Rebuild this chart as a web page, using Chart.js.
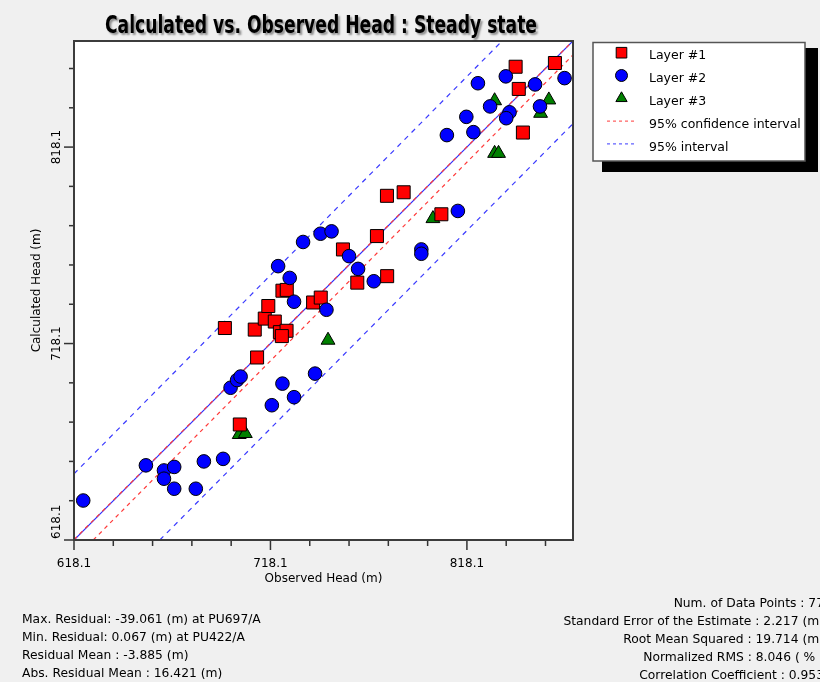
<!DOCTYPE html>
<html>
<head>
<meta charset="utf-8">
<title>Calculated vs. Observed Head : Steady state</title>
<script src="https://cdn.jsdelivr.net/npm/chart.js@4.4.1/dist/chart.umd.min.js"></script>
<style>
  html, body { margin: 0; padding: 0; background: #f0f0f0; overflow: hidden; }
  #wrap { position: relative; width: 820px; height: 682px; overflow: hidden; }
  #headChart { position: absolute; left: 0; top: 0; }
  .stats { position: absolute; font: 12.3px 'DejaVu Sans', sans-serif; line-height: 18px; color: #000; white-space: nowrap; }
  #statsLeft { left: 22px; top: 610px; }
  #statsRight { right: -4px; top: 594px; text-align: right; }
</style>
</head>
<body>
<div id="wrap">
  <canvas id="headChart" width="820" height="682"></canvas>
  <div class="stats" id="statsLeft"></div>
  <div class="stats" id="statsRight"></div>
</div>
<script>
// Title and axis texts
var chartTitle = 'Calculated vs. Observed Head : Steady state';
var xTitle = 'Observed Head (m)';
var yTitle = 'Calculated Head (m)';

// Axis range and ticks (same for both axes)
var axisMin = 618.1;
var axisMax = 872.1;
var headTicks = [618.1, 638.1, 658.1, 678.1, 698.1, 718.1, 738.1, 758.1, 778.1, 798.1, 818.1, 838.1, 858.1];
var labelledTicks = [618.1, 718.1, 818.1];

// Layer #1 (observed / calculated)
var layer1Obs  = [694.9, 702.5, 711.3, 710.1, 715.2, 717.0, 720.3, 722.9, 726.3, 724.2, 726.4, 739.8, 743.7,
                  755.0, 762.3, 772.3, 777.4, 777.5, 785.9, 805.1, 842.9, 844.5, 846.6, 862.9, 723.9];
var layer1Calc = [726.0, 676.9, 711.0, 725.2, 730.8, 737.2, 729.3, 723.9, 724.6, 745.0, 745.4, 739.0, 741.5,
                  766.0, 749.1, 772.8, 793.3, 752.4, 795.1, 783.9, 859.0, 847.7, 825.5, 860.9, 721.9];

// Layer #2
var layer2Obs  = [622.8, 654.7, 663.9, 663.9, 669.1, 669.1, 680.1, 684.2, 694.0, 697.8, 701.1, 702.9, 718.8,
                  724.2, 730.1, 740.8, 722.0, 727.9, 730.1, 746.6, 734.7, 743.6, 749.2, 758.1, 762.7, 770.7,
                  794.9, 794.9, 813.5, 807.9, 821.4, 817.8, 823.7, 829.9, 837.9, 839.8, 838.1, 852.8, 855.3, 867.8];
var layer2Calc = [638.2, 656.1, 653.5, 649.3, 655.3, 644.2, 644.2, 658.1, 659.4, 695.6, 699.5, 701.3, 686.7,
                  697.7, 690.8, 702.8, 757.5, 751.5, 739.4, 735.3, 769.8, 774.0, 775.2, 762.6, 756.1, 749.8,
                  766.0, 763.8, 785.6, 824.2, 825.7, 833.5, 850.6, 838.8, 854.1, 835.8, 832.8, 850.0, 838.8, 853.2];

// Layer #3
var layer3Obs  = [702.2, 705.3, 747.4, 800.8, 832.2, 832.2, 834.2, 855.6, 859.8];
var layer3Calc = [671.8, 672.3, 719.8, 781.7, 841.7, 814.9, 814.9, 835.3, 842.1];

// Reference lines (end points)
var oneToOneX  = [618.1, 872.1];
var oneToOneY  = [618.1, 872.1];
var confUpperX = [618.1, 872.1];
var confUpperY = [618.3, 872.2];
var confLowerX = [627.9, 872.1];
var confLowerY = [618.1, 865.0];
var predUpperX = [618.1, 836.0];
var predUpperY = [651.8, 872.1];
var predLowerX = [661.8, 872.1];
var predLowerY = [618.1, 830.0];

// Statistics
var statsLeft = [
    'Max. Residual: -39.061 (m) at PU697/A',
    'Min. Residual: 0.067 (m) at PU422/A',
    'Residual Mean : -3.885 (m)',
    'Abs. Residual Mean : 16.421 (m)'
];
var statsRight = [
    'Num. of Data Points : 77',
    'Standard Error of the Estimate : 2.217 (m)',
    'Root Mean Squared : 19.714 (m)',
    'Normalized RMS : 8.046 ( % )',
    'Correlation Coefficient : 0.953'
];

var FONT = "'DejaVu Sans', sans-serif";
var RED_DASH = '#ff3a3a';
var BLUE_DASH = '#3a3aff';

function toPoints(xs, ys) {
    return xs.map(function(x, i) { return { x: x, y: ys[i] }; });
}

function lineSet(label, xs, ys, color, dash, inLegend, order) {
    return {
        type: 'line',
        label: label,
        data: toPoints(xs, ys),
        borderColor: color,
        borderWidth: 1.2,
        borderDash: dash,
        pointRadius: 0,
        fill: false,
        showLine: true,
        inLegend: inLegend,
        order: order
    };
}

// Stats blocks
document.getElementById('statsLeft').innerHTML = statsLeft.join('<br>');
document.getElementById('statsRight').innerHTML = statsRight.join('<br>');

// Frame, ticks, rotated y labels, title and the boxed legend
var decorPlugin = {
    id: 'decor',
    beforeDraw: function(chart) {
        var c = chart.ctx, a = chart.chartArea;
        c.save();
        c.fillStyle = '#f0f0f0';
        c.fillRect(0, 0, chart.width, chart.height);
        c.fillStyle = '#ffffff';
        c.fillRect(a.left, a.top, a.right - a.left, a.bottom - a.top);
        c.restore();
    },
    afterDraw: function(chart) {
        var c = chart.ctx, a = chart.chartArea;
        var xs = chart.scales.x, ys = chart.scales.y;
        c.save();

        // plot frame
        c.strokeStyle = '#3c3c3c';
        c.lineWidth = 2;
        c.strokeRect(a.left, a.top, a.right - a.left, a.bottom - a.top);

        // tick marks
        c.lineWidth = 1.5;
        c.strokeStyle = '#333';
        headTicks.forEach(function(v) {
            var major = labelledTicks.indexOf(v) >= 0;
            var px = xs.getPixelForValue(v);
            c.beginPath();
            c.moveTo(px, a.bottom + 1);
            c.lineTo(px, a.bottom + (major ? 10 : 6));
            c.stroke();
            var py = ys.getPixelForValue(v);
            c.beginPath();
            c.moveTo(a.left - 1, py);
            c.lineTo(a.left - (major ? 10 : 5), py);
            c.stroke();
        });

        // rotated y tick labels
        c.fillStyle = '#000';
        c.font = '12px ' + FONT;
        c.textAlign = 'center';
        c.textBaseline = 'middle';
        labelledTicks.forEach(function(v) {
            var txt = v.toFixed(1);
            var half = c.measureText(txt).width / 2;
            var py = Math.min(ys.getPixelForValue(v), a.bottom - half - 1);
            c.save();
            c.translate(57, py);
            c.rotate(-Math.PI / 2);
            c.fillText(txt, 0, 0);
            c.restore();
        });

        // title with a soft shadow
        c.save();
        c.font = "bold 24px 'Liberation Sans Narrow', 'DejaVu Sans Condensed', sans-serif";
        c.textAlign = 'center';
        c.textBaseline = 'alphabetic';
        var tw = c.measureText(chartTitle).width;
        c.translate(321, 33);
        c.scale(432 / tw, 1);
        c.shadowColor = 'rgba(0,0,0,0.4)';
        c.shadowOffsetX = 2;
        c.shadowOffsetY = 2;
        c.shadowBlur = 2;
        c.fillStyle = '#000';
        c.fillText(chartTitle, 0, 0);
        c.restore();

        // legend box with black drop shadow
        c.fillStyle = '#000';
        c.fillRect(602, 48, 216, 124);
        c.fillStyle = '#fff';
        c.fillRect(593, 42, 212, 119);
        c.strokeStyle = '#555';
        c.lineWidth = 1.5;
        c.strokeRect(593, 42.5, 212, 118.5);

        var items = chart.data.datasets.filter(function(d) { return d.inLegend; });
        c.font = '12.5px ' + FONT;
        c.textAlign = 'left';
        c.textBaseline = 'middle';
        items.forEach(function(d, i) {
            var my = 52.7 + i * 22.8;
            if (d.type === 'line') {
                c.save();
                c.strokeStyle = d.borderColor;
                c.lineWidth = 1;
                c.setLineDash([3, 3]);
                c.beginPath();
                c.moveTo(607, my);
                c.lineTo(634, my);
                c.stroke();
                c.restore();
            } else {
                c.fillStyle = d.backgroundColor;
                c.strokeStyle = '#000';
                c.lineWidth = 1;
                Chart.helpers.drawPoint(c, {
                    pointStyle: d.pointStyle,
                    radius: d.legendRadius,
                    rotation: 0,
                    borderWidth: 1
                }, 621.5, my);
            }
            c.fillStyle = '#000';
            c.fillText(d.label, 649, 55.6 + i * 23.1);
        });

        c.restore();
    }
};

var ctx = document.getElementById('headChart').getContext('2d');
var headChart = new Chart(ctx, {
    type: 'scatter',
    data: {
        datasets: [
            {
                label: 'Layer #1',
                data: toPoints(layer1Obs, layer1Calc),
                pointStyle: 'rect',
                pointRadius: 9.2,
                legendRadius: 7.5,
                backgroundColor: '#ff0000',
                borderColor: '#000',
                borderWidth: 1,
                inLegend: true,
                order: 1
            },
            {
                label: 'Layer #2',
                data: toPoints(layer2Obs, layer2Calc),
                pointStyle: 'circle',
                pointRadius: 6.8,
                legendRadius: 6,
                backgroundColor: '#0000ff',
                borderColor: '#000',
                borderWidth: 1,
                inLegend: true,
                order: 0
            },
            {
                label: 'Layer #3',
                data: toPoints(layer3Obs, layer3Calc),
                pointStyle: 'triangle',
                pointRadius: 8,
                legendRadius: 6.5,
                backgroundColor: '#008000',
                borderColor: '#000',
                borderWidth: 1,
                inLegend: true,
                order: 2
            },
            lineSet('95% confidence interval', confUpperX, confUpperY, RED_DASH, [4, 4], true, 5),
            lineSet('95% interval', predUpperX, predUpperY, BLUE_DASH, [5, 5], true, 6),
            lineSet('95% confidence interval', confLowerX, confLowerY, RED_DASH, [4, 4], false, 6),
            lineSet('95% interval', predLowerX, predLowerY, BLUE_DASH, [5, 5], false, 6),
            lineSet('1:1', oneToOneX, oneToOneY, '#2a2aff', [], false, 7)
        ]
    },
    options: {
        responsive: false,
        animation: false,
        layout: { padding: { top: 41, right: 247, bottom: 92, left: 0 } },
        plugins: {
            legend: { display: false },
            tooltip: { enabled: false },
            title: { display: false }
        },
        scales: {
            x: {
                type: 'linear',
                min: axisMin,
                max: axisMax,
                afterBuildTicks: function(s) { s.ticks = headTicks.map(function(v) { return { value: v }; }); },
                afterFit: function(s) { s.height = 50; },
                grid: { display: false, drawTicks: false },
                border: { display: false },
                ticks: {
                    autoSkip: false,
                    maxRotation: 0,
                    padding: 17,
                    color: '#000',
                    font: { family: FONT, size: 12 },
                    callback: function(v) { return labelledTicks.indexOf(v) >= 0 ? v.toFixed(1) : ''; }
                },
                title: {
                    display: true,
                    text: xTitle,
                    color: '#000',
                    font: { family: FONT, size: 12 },
                    padding: { top: 0, bottom: 4 }
                }
            },
            y: {
                type: 'linear',
                min: axisMin,
                max: axisMax,
                afterBuildTicks: function(s) { s.ticks = headTicks.map(function(v) { return { value: v }; }); },
                afterFit: function(s) { s.width = 74; },
                grid: { display: false, drawTicks: false },
                border: { display: false },
                ticks: { display: false },
                title: {
                    display: true,
                    text: yTitle,
                    color: '#000',
                    font: { family: FONT, size: 12 },
                    padding: { top: 30, bottom: 0 }
                }
            }
        }
    },
    plugins: [decorPlugin]
});
</script>
</body>
</html>
